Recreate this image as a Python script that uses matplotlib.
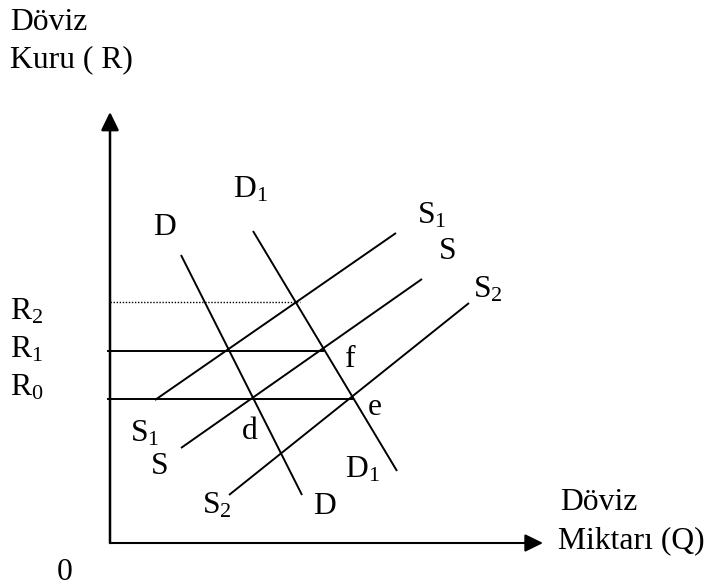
import matplotlib
matplotlib.use('Agg')
import matplotlib.pyplot as plt

plt.rcParams['font.family'] = ['Liberation Serif', 'DejaVu Serif']
plt.rcParams['mathtext.fontset'] = 'custom'
plt.rcParams['mathtext.rm'] = 'Liberation Serif'

# diagram laid out in pixel coordinates of the 710x588 picture (y grows downward)
origin = (110, 543)
y_axis_top = (110, 112)
x_axis_end = (543, 543)

# curves: (x0, y0, x1, y1)
curve_D = (181, 255, 302, 495)
curve_D1 = (253, 231, 397, 471)
curve_S1 = (155, 400, 396, 233)
curve_S = (181, 448, 422, 279)
curve_S2 = (229, 495, 469, 303)

# rate levels: (y, x_end)
level_R2 = (302, 300)
level_R1 = (351, 323)
level_R0 = (399, 352)

# labels: (text, x, baseline)
labels = [
    ('Döviz', 10, 30),
    ('Kuru ( R)', 10, 67),
    (r'R$\mathregular{_2}$', 10, 319),
    (r'R$\mathregular{_1}$', 10, 358),
    (r'R$\mathregular{_0}$', 10, 395),
    ('0', 57, 580),
    ('D', 153, 235),
    (r'D$\mathregular{_1}$', 233, 198),
    (r'S$\mathregular{_1}$', 417, 223),
    ('S', 439, 259),
    (r'S$\mathregular{_2}$', 473, 298),
    ('f', 345, 367),
    ('e', 368, 415),
    ('d', 242, 439),
    (r'S$\mathregular{_1}$', 130, 441),
    ('S', 151, 474),
    (r'D$\mathregular{_1}$', 345, 478),
    (r'S$\mathregular{_2}$', 202, 514),
    ('D', 313, 514),
    ('Döviz', 560, 510),
    ('Miktarı (Q)', 558, 548),
]

fig = plt.figure(figsize=(7.1, 5.88), dpi=100)
ax = fig.add_axes([0, 0, 1, 1])
ax.set_xlim(0, 710)
ax.set_ylim(588, 0)
ax.axis('off')

head = '-|>,head_length=0.55,head_width=0.27'
ax.annotate('', xy=y_axis_top, xytext=origin,
            arrowprops=dict(arrowstyle=head, mutation_scale=20, lw=1.8,
                            color='black', shrinkA=0, shrinkB=0))
ax.annotate('', xy=x_axis_end, xytext=origin,
            arrowprops=dict(arrowstyle=head, mutation_scale=20, lw=1.5,
                            color='black', shrinkA=0, shrinkB=0))

for c in [curve_D, curve_D1, curve_S1, curve_S, curve_S2]:
    ax.plot([c[0], c[2]], [c[1], c[3]], color='black', lw=1.4,
            solid_capstyle='butt')

for y, xe in [level_R1, level_R0]:
    ax.plot([108, xe], [y, y], color='black', lw=1.4)
ax.plot([110, level_R2[1]], [level_R2[0], level_R2[0]], color='black',
        lw=1.0, linestyle=(0, (1, 1.2)))

for txt, x, y in labels:
    ax.text(x, y, txt, fontsize=22.8, ha='left', va='baseline')

plt.savefig('out.png', dpi=100)
